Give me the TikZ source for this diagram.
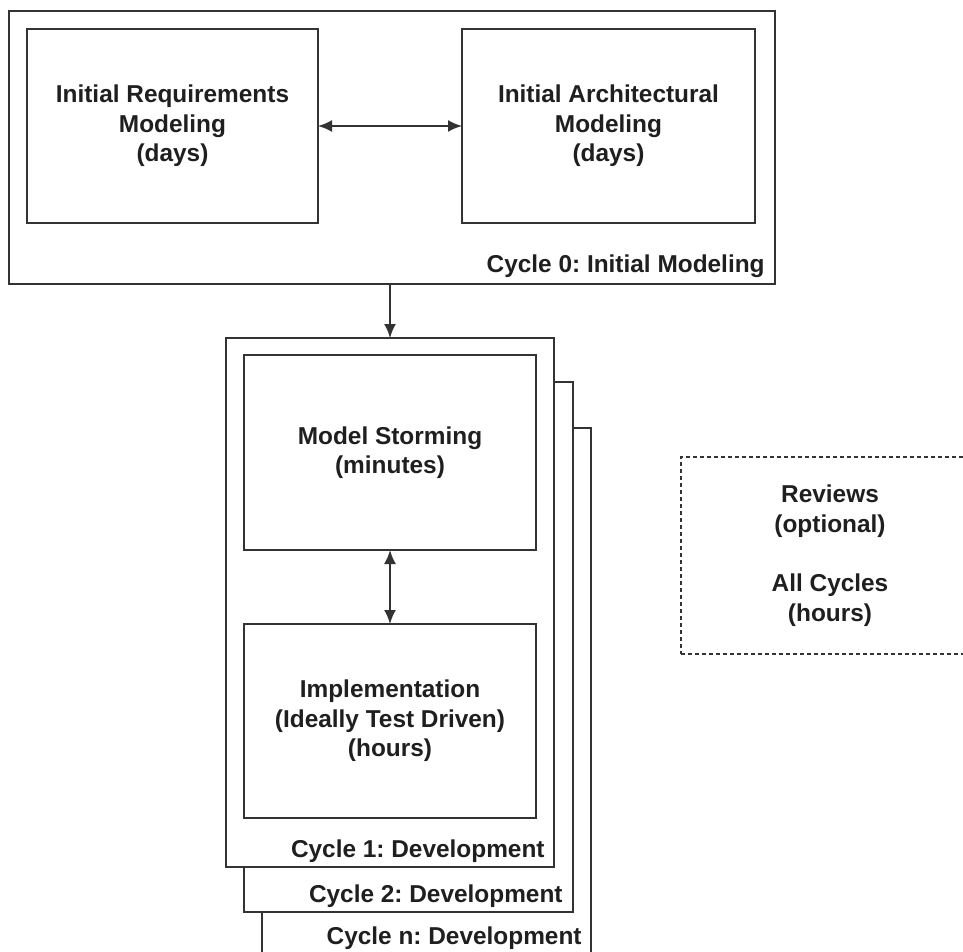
\documentclass[tikz,border=0pt]{standalone}
\usepackage{fontspec}
\setmainfont{Liberation Sans}
\usetikzlibrary{arrows.meta}
\frenchspacing
\begin{document}
\begin{tikzpicture}[x=0.5pt,y=-0.5pt,
  box/.style={draw=black!80, fill=white, inner sep=0pt, outer sep=0pt, line width=1pt,
    font=\fontsize{12.2}{14.8}\selectfont\bfseries, text=black!88, align=center},
  lbl/.style={font=\fontsize{12.2}{14.8}\selectfont\bfseries, text=black!88, inner sep=0pt},
  tip/.tip={Latex[length=7pt,width=6pt]},
  arr/.style={draw=black!80, line width=1pt, -tip},
  darr/.style={draw=black!80, line width=1pt, tip-tip}
]
\useasboundingbox[fill=white] (0,0) rectangle (963,952);
\begin{scope}
\clip (0,0) rectangle (963,952);
% Cycle 0
\node[box, minimum width=383pt, minimum height=136.5pt] (c0) at (392,147.5) {};
\node[box, minimum width=145.5pt, minimum height=97pt] (req) at (172.5,126)
  {Initial Requirements\\Modeling\\(days)};
\node[box, minimum width=146.5pt, minimum height=97pt] (arch) at (608.5,126)
  {Initial Architectural\\Modeling\\(days)};
\node[lbl, anchor=east] (l0) at (765,266) {Cycle 0: Initial Modeling};
\draw[darr] (req.east) -- (arch.west);
% Development cycles stack
\node[box, minimum width=164.5pt, minimum height=286pt] (cn) at (426.5,714) {};
\node[box, minimum width=164.5pt, minimum height=265pt] (c2) at (408.5,647) {};
\node[box, minimum width=164pt, minimum height=264.5pt] (c1) at (390,602.5) {};
\node[box, minimum width=146pt, minimum height=97.5pt] (ms) at (390,452.5)
  {Model Storming\\(minutes)};
\node[box, minimum width=146pt, minimum height=97pt] (impl) at (390,721)
  {Implementation\\(Ideally Test Driven)\\(hours)};
\node[lbl, anchor=east] (l1) at (545,851) {Cycle 1: Development};
\node[lbl, anchor=east] (l2) at (563,896) {Cycle 2: Development};
\node[lbl, anchor=east] (ln) at (582,938) {Cycle n: Development};
\draw[darr] (ms.south) -- (impl.north);
\draw[arr] (c0.south -| c1.north) -- (c1.north);
% Reviews
\node[box, dash pattern=on 2.2pt off 1.3pt, minimum width=149pt, minimum height=98.5pt] (rev) at (830,555.5)
  {Reviews\\(optional)\\[14.8pt]All Cycles\\(hours)};
\end{scope}
\end{tikzpicture}
\end{document}
